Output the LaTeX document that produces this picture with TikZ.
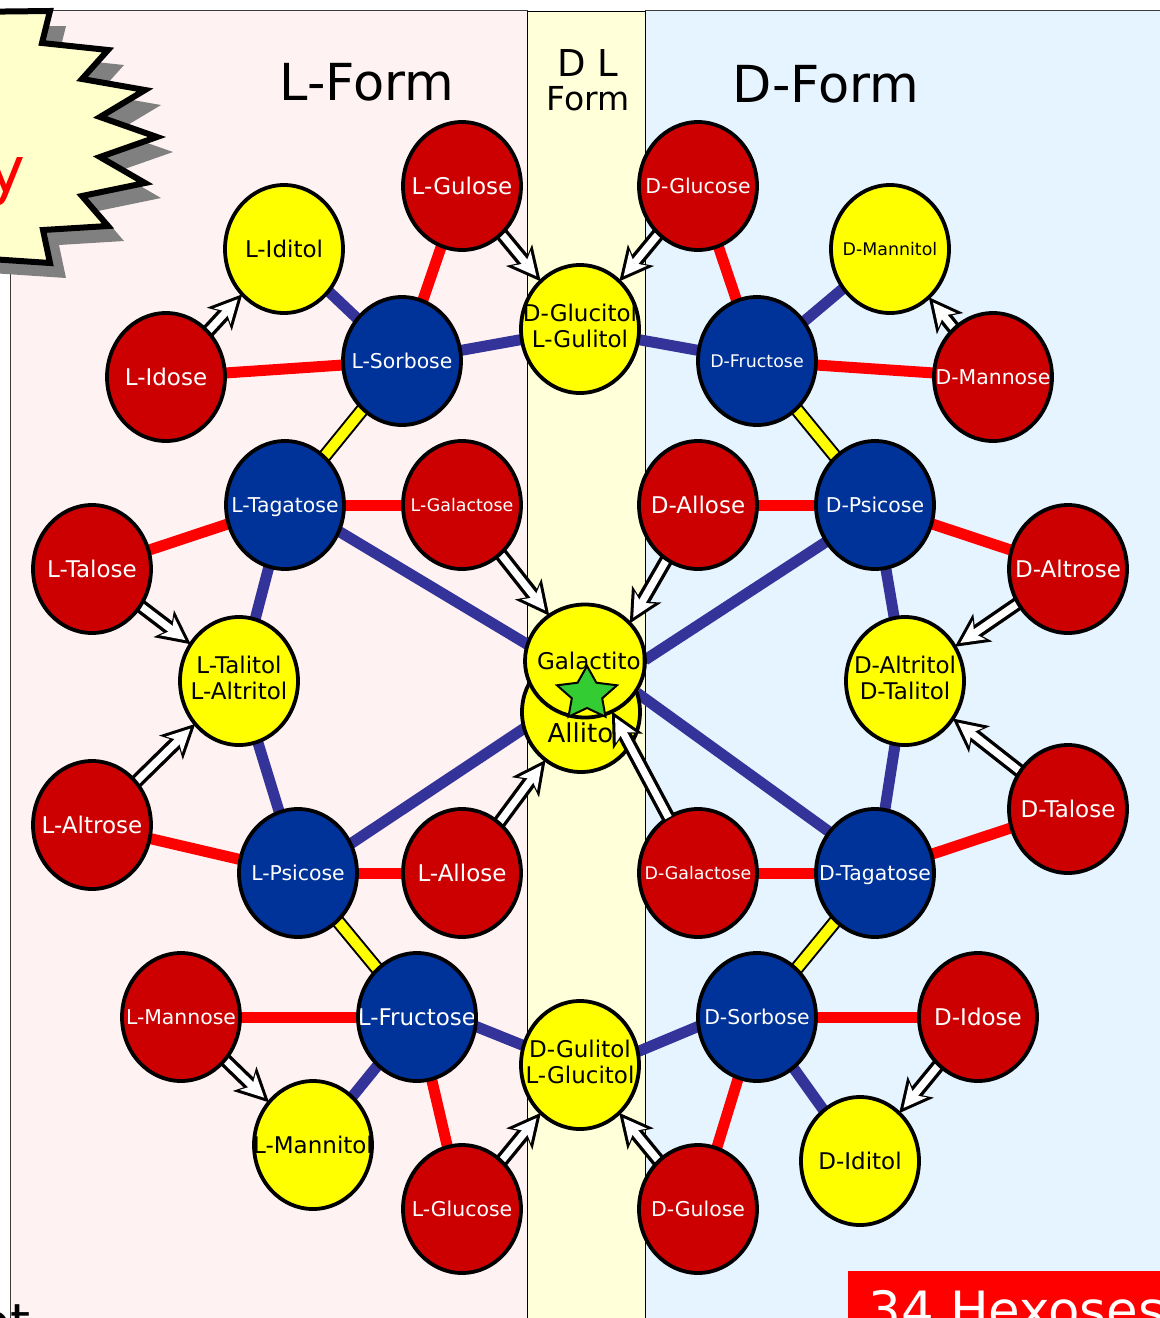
\documentclass[tikz,border=0pt]{standalone}
\usepackage{fontspec}
\setmainfont{DejaVu Sans}
\usetikzlibrary{shapes.geometric,arrows.meta}
\pgfdeclarelayer{back}\pgfdeclarelayer{edges}\pgfdeclarelayer{front}
\pgfsetlayers{back,edges,main,front}
\definecolor{pinkbg}{RGB}{255,242,242}
\definecolor{ylbg}{RGB}{255,255,217}
\definecolor{bluebg}{RGB}{230,244,255}
\definecolor{rednode}{RGB}{204,0,0}
\definecolor{bluenode}{RGB}{0,51,153}
\definecolor{redline}{RGB}{255,0,0}
\definecolor{blueline}{RGB}{51,51,153}
\definecolor{starg}{RGB}{51,204,51}
\definecolor{burst}{RGB}{255,255,204}
\definecolor{shadowgray}{RGB}{128,128,128}
\definecolor{panelline}{RGB}{60,60,60}
\definecolor{ynode}{RGB}{255,255,0}
\tikzset{
 bub/.style={ellipse, minimum width=59pt, minimum height=64pt, inner sep=0pt, outer sep=0pt},
 rn/.style={bub, fill=rednode, text=white},
 bn/.style={bub, fill=bluenode, text=white},
 yn/.style={bub, fill=ynode, text=black},
 fb/.style={font=\fontsize{11.5}{13}\selectfont},
 fm/.style={font=\fontsize{10.2}{12}\selectfont},
 fs/.style={font=\fontsize{8.7}{10}\selectfont},
 one/.style={text depth=0pt},
 rl/.style={draw=redline, line width=5.5pt},
 bl/.style={draw=blueline, line width=5.5pt},
 yl/.style={draw=black, line width=1pt, double=ynode, double distance=5pt},
 arrout/.style={draw=black, line width=7pt, -{Stealth[length=17pt,width=17pt,inset=4.5pt,line width=0pt]}},
 arrin/.style={draw=white, line width=3.6pt, shorten >=3.4pt, -{Stealth[length=11.5pt,width=11.5pt,inset=3.2pt,line width=0pt]}},
 outl/.style={draw=black, line width=1.9pt},
}
\newcommand\bubble[4]{\node[#3] (#1) at (#2) {\makebox[0pt]{#4}};
  \draw[outl] (#1.center) ellipse [x radius=29.5pt, y radius=32pt];}
\newcommand\harr[2]{\draw[arrout] (#1) -- (#2); \draw[arrin] (#1) -- (#2);}
\newcommand\twol[2]{\raisebox{-1.5pt}{\begin{tabular}{@{}c@{}}#1\\#2\end{tabular}}}
\begin{document}
\begin{tikzpicture}[x=0.5pt,y=-0.5pt]
\useasboundingbox (0,0) rectangle (1160,1318);
% ---------- background panels ----------
\begin{pgfonlayer}{back}
\fill[white] (0,0) rectangle (1160,1318);
\filldraw[fill=pinkbg, draw=panelline, line width=0.5pt] (10,10) rectangle (527,1340);
\filldraw[fill=bluebg, draw=panelline, line width=0.5pt] (645,10) rectangle (1180,1340);
\filldraw[fill=ylbg, draw=black, line width=0.5pt] (527,11) rectangle (645,1340);
% starburst with shadow
\fill[shadowgray, shift={(16,15)}] (-40,12) -- (50,11) -- (42,43) -- (108,50) -- (82,79) -- (145,90) -- (100,117) -- (157,137) -- (100,157) -- (145,183) -- (82,196) -- (108,226) -- (43,230) -- (50,263) -- (-40,257) -- cycle;
\filldraw[fill=burst, draw=black, line width=3pt, miter limit=10] (-40,12) -- (50,11) -- (42,43) -- (108,50) -- (82,79) -- (145,90) -- (100,117) -- (157,137) -- (100,157) -- (145,183) -- (82,196) -- (108,226) -- (43,230) -- (50,263) -- (-40,257) -- cycle;
\node[font=\fontsize{32}{38}\selectfont, text=redline, anchor=base east, inner sep=0pt] (ytxt) at (26,192) {y};
% titles
\node[font=\fontsize{25.5}{30}\selectfont, anchor=base, inner sep=0pt] (lform) at (367,100) {L-Form};
\node[font=\fontsize{25.5}{30}\selectfont, anchor=base, inner sep=0pt] (dform) at (826,102) {D-Form};
\node[font=\fontsize{18.5}{20}\selectfont, anchor=base, inner sep=0pt] (dltxt) at (588,76) {D L};
\node[font=\fontsize{16.5}{20}\selectfont, anchor=base, inner sep=0pt] (formtxt) at (588,110) {Form};
\end{pgfonlayer}
% ---------- nodes ----------
% red
\bubble{lgul}{462,186}{rn,fb,one}{L-Gulose}
\bubble{dglc}{698,186}{rn,fm,one}{D-Glucose}
\bubble{lido}{166,377}{rn,fb,one}{L-Idose}
\bubble{dman}{993,377}{rn,fm,one}{D-Mannose}
\bubble{lgal}{462,505}{rn,fs,one}{L-Galactose}
\bubble{dall}{698,505}{rn,fb,one}{D-Allose}
\bubble{ltal}{92,569}{rn,fb,one}{L-Talose}
\bubble{dalt}{1068,569}{rn,fb,one}{D-Altrose}
\bubble{lalt}{92,825}{rn,fb,one}{L-Altrose}
\bubble{dtal}{1068,809}{rn,fb,one}{D-Talose}
\bubble{lall}{462,873}{rn,fb,one}{L-Allose}
\bubble{dgal}{698,873}{rn,fs,one}{D-Galactose}
\bubble{lman}{181,1017}{rn,fm,one}{L-Mannose}
\bubble{dido}{978,1017}{rn,fb,one}{D-Idose}
\bubble{lglc}{462,1209}{rn,fm,one}{L-Glucose}
\bubble{dgul}{698,1209}{rn,fm,one}{D-Gulose}
% blue
\bubble{lsor}{402,361}{bn,fm,one}{L-Sorbose}
\bubble{dfru}{757,361}{bn,fs,one}{D-Fructose}
\bubble{ltag}{285,505}{bn,fm,one}{L-Tagatose}
\bubble{dpsi}{875,505}{bn,fm,one}{D-Psicose}
\bubble{lpsi}{298,873}{bn,fm,one}{L-Psicose}
\bubble{dtag}{875,873}{bn,fm,one}{D-Tagatose}
\bubble{lfru}{417,1017}{bn,fb,one}{L-Fructose}
\bubble{dsor}{757,1017}{bn,fm,one}{D-Sorbose}
% yellow
\bubble{lidi}{284,249}{yn,fb,one}{L-Iditol}
\bubble{dmnt}{890,249}{yn,fs,one}{D-Mannitol}
\bubble{glcol}{580,329}{yn,fb}{\twol{D-Glucitol}{L-Gulitol}}
\bubble{ltlt}{239,681}{yn,fb}{\twol{L-Talitol}{L-Altritol}}
\bubble{daltl}{905,681}{yn,fb}{\twol{D-Altritol}{D-Talitol}}
\bubble{gulol}{580,1065}{yn,fb}{\twol{D-Gulitol}{L-Glucitol}}
\bubble{lmnt}{313,1145}{yn,fb,one}{L-Mannitol}
\bubble{didi}{860,1161}{yn,fb,one}{D-Iditol}
% Allitol under Galactitol
\node[yn, minimum width=59pt, minimum height=60pt] (alli) at (581,712) {};
\node[font=\fontsize{13}{15}\selectfont, one, inner sep=0pt] (allitxt) at (584,733) {Allitol};
\draw[outl] (alli.center) ellipse [x radius=29.5pt, y radius=30pt];
\node[yn, fb, one, minimum width=60pt, minimum height=56.5pt] (galac) at (585,661) {\makebox[0pt]{\hspace{7pt}Galactitol}};
\draw[outl] (galac.center) ellipse [x radius=30pt, y radius=28.25pt];
% ---------- connectors ----------
\begin{pgfonlayer}{edges}
% red links
\draw[rl] (lgul) -- (lsor);
\draw[rl] (lido) -- (lsor);
\draw[rl] (dglc) -- (dfru);
\draw[rl] (dman) -- (dfru);
\draw[rl] (lgal) -- (ltag);
\draw[rl] (ltal) -- (ltag);
\draw[rl] (dall) -- (dpsi);
\draw[rl] (dpsi) -- (dalt);
\draw[rl] (lalt) -- (lpsi);
\draw[rl] (lpsi) -- (lall);
\draw[rl] (dgal) -- (dtag);
\draw[rl] (dtag) -- (dtal);
\draw[rl] (lman) -- (lfru);
\draw[rl] (lfru) -- (lglc);
\draw[rl] (dsor) -- (dido);
\draw[rl] (dsor) -- (dgul);
% blue links
\draw[bl] (lidi) -- (lsor);
\draw[bl] (lsor) -- (glcol);
\draw[bl] (glcol) -- (dfru);
\draw[bl] (dfru) -- (dmnt);
\draw[bl] (ltag) -- (ltlt);
\draw[bl] (ltag.-26) -- (galac.164);
\draw[bl] (galac.1) -- (dpsi.217);
\draw[bl] (dpsi) -- (daltl);
\draw[bl] (ltlt) -- (lpsi);
\draw[bl] (lpsi.29) -- (alli.196);
\draw[bl] (alli.19) -- (dtag.138);
\draw[bl] (daltl) -- (dtag);
\draw[bl] (lfru) -- (lmnt);
\draw[bl] (lfru.-9) -- (gulol.161);
\draw[bl] (gulol.13) -- (dsor.189);
\draw[bl] (dsor) -- (didi);
% yellow links
\draw[yl] (lsor) -- (ltag);
\draw[yl] (dfru) -- (dpsi);
\draw[yl] (lpsi) -- (lfru);
\draw[yl] (dtag) -- (dsor);
% reduction arrows
\harr{lido}{lidi}
\harr{lgul}{glcol}
\harr{dglc}{glcol}
\harr{dman}{dmnt}
\harr{lgal}{galac}
\harr{dall}{galac.40}
\harr{ltal}{ltlt}
\harr{dalt}{daltl}
\harr{lalt}{ltlt}
\harr{dtal}{daltl}
\harr{lall}{alli}
\harr{lman}{lmnt}
\harr{lglc}{gulol}
\harr{dgul}{gulol}
\harr{dido}{didi}
\end{pgfonlayer}
% ---------- front ----------
\begin{pgfonlayer}{front}
\harr{dgal}{galac}
\filldraw[fill=starg, draw=black, line width=1pt] (587,666) -- (577.6,682.7) -- (557,685.3) -- (571.8,698.3) -- (568.5,716.7) -- (587,708) -- (605.5,716.7) -- (602.2,698.3) -- (617,685.3) -- (596.4,682.7) -- cycle;
\fill[redline] (848,1271) rectangle (1180,1340);
\node[font=\fontsize{25.7}{30}\selectfont, text=white, anchor=base west, inner sep=0pt] (hex) at (868,1328) {34 Hexoses};
\node[font=\fontsize{25.5}{30}\selectfont, anchor=base east, inner sep=0pt] (ottxt) at (31,1340) {ot};
\end{pgfonlayer}
\end{tikzpicture}
\end{document}
